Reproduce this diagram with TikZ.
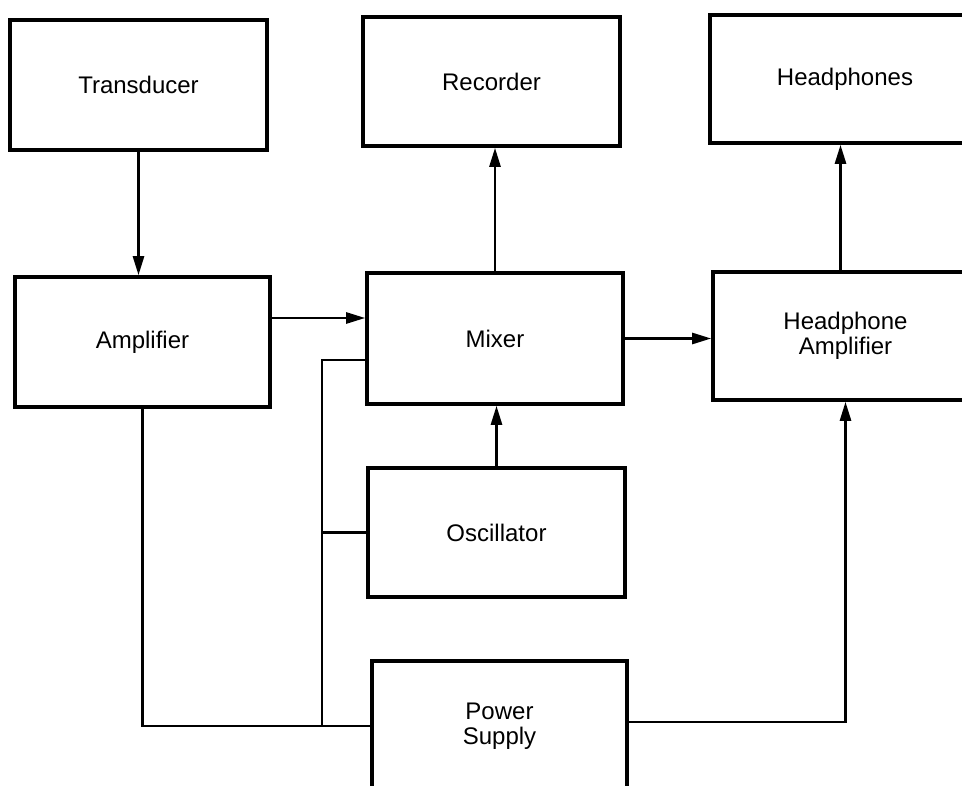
\documentclass[tikz,border=0pt]{standalone}
\usepackage{fontspec}
\setmainfont{Liberation Sans}
\usetikzlibrary{arrows.meta}
\begin{document}
\begin{tikzpicture}[x=1pt,y=-1pt,
  box/.style={draw, line width=3.6pt, inner sep=0pt, align=center,
    font=\fontsize{24}{25}\selectfont},
  wire/.style={line width=2.6pt},
  arr/.style={wire, -{Triangle[length=19pt,width=11pt]}}]
\useasboundingbox (0,0) rectangle (962,786);
\clip (0,0) rectangle (962,786);
% blocks
\node[box, minimum width=257pt, minimum height=130pt] (trans) at (138.5,85) {Transducer};
\node[box, minimum width=255pt, minimum height=130pt] (amp) at (142.5,342) {Amplifier};
\node[box, minimum width=257pt, minimum height=129pt] (rec) at (491.5,81.5) {Recorder};
\node[box, minimum width=256pt, minimum height=131pt] (mix) at (495,338.5) {Mixer};
\node[box, minimum width=270pt, minimum height=128pt] (hp) at (845,79) {Headphones};
\node[box, minimum width=265pt, minimum height=128pt] (ha) at (845.5,336) {Headphone\\Amplifier};
\node[box, minimum width=257pt, minimum height=129pt] (osc) at (496.5,532.5) {Oscillator};
\node[box, minimum width=255pt, minimum height=130pt] (ps) at (499.5,726) {Power\\Supply};
% signal path
\draw[arr] (trans.south) -- (trans.south |- amp.north);
\draw[arr] ([yshift=24pt]amp.east) -- ([yshift=24pt]amp.east -| mix.west);
\draw[arr] (mix.north) -- (mix.north |- rec.south);
\draw[arr] (mix.east) -- (mix.east -| ha.west);
\draw[arr] ([xshift=-5pt]ha.north) -- ([xshift=-5pt]ha.north |- hp.south);
\draw[arr] (osc.north) -- (osc.north |- mix.south);
% power distribution
\coordinate (bus) at (322,726);
\coordinate (mixin) at (322,360);
\draw[wire] (amp.south) -- (amp.south |- ps.west) -- (ps.west);
\draw[wire] (mixin -| mix.west) -- (mixin) -- (bus);
\draw[wire] (osc.west) -- (osc.west -| bus);
\draw[arr] ([yshift=4pt]ps.east) -| (ha.south);
\end{tikzpicture}
\end{document}
